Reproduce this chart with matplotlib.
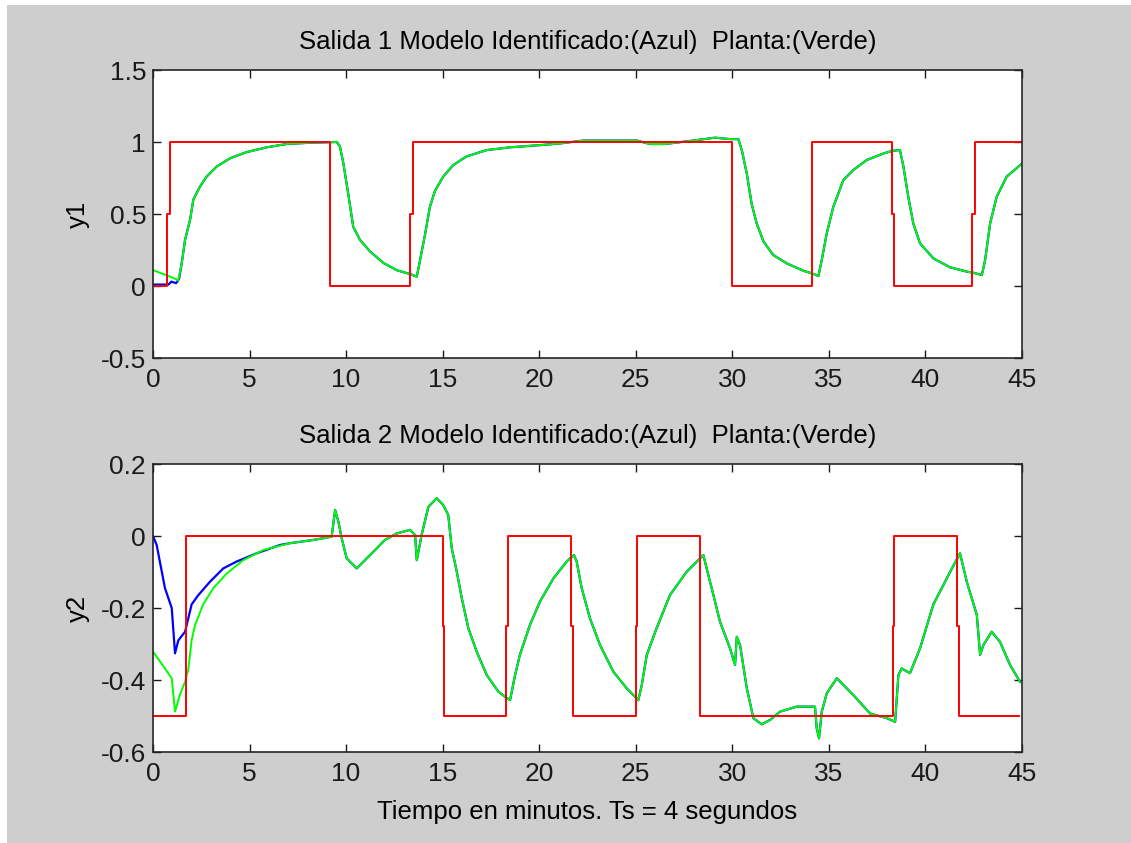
import matplotlib
matplotlib.use("Agg")
import matplotlib.pyplot as plt
import matplotlib.patches as mpatches
import numpy as np

plt.rcParams['font.family'] = ['Liberation Sans', 'DejaVu Sans']

# ── data ─────────────────────────────────────────────────────────────────────

# Salida 1: reference (red)
r1_t = [0, 0.73, 0.73, 0.87, 0.87, 9.17, 9.17, 13.31, 13.31, 13.44, 13.44,
        30.0, 30.0, 34.15, 34.15, 38.29, 38.29, 38.37, 38.37, 42.43, 42.43,
        42.57, 42.57, 45.0]
r1_y = [0, 0, 0.5, 0.5, 1, 1, 0, 0, 0.5, 0.5, 1,
        1, 0, 0, 1, 1, 0.5, 0.5, 0, 0, 0.5,
        0.5, 1, 1]

# Salida 1: plant (green)
g1_t = [0, 0.8, 1.31, 1.49, 1.66, 1.92, 2.09, 2.43, 2.78, 3.30, 3.99, 4.85,
        5.89, 6.92, 8.13, 9.51, 9.68, 9.86, 10.11, 10.37, 10.72, 11.24, 11.93,
        12.62, 13.31, 13.66, 13.83, 14.09, 14.34, 14.60, 15.03, 15.55, 16.24,
        17.28, 18.49, 20.21, 21.08, 22.28, 24.18, 25.05, 25.74, 26.51, 27.98,
        29.1, 29.88, 30.31, 30.49, 30.75, 31.0, 31.26, 31.61, 32.12, 32.82,
        33.68, 34.11, 34.46, 34.63, 34.89, 35.23, 35.75, 36.27, 36.96, 37.82,
        38.34, 38.68, 38.86, 39.11, 39.37, 39.72, 40.41, 41.27, 42.14, 42.48,
        42.92, 43.09, 43.35, 43.69, 44.21, 45.0]
g1_y = [0.11, 0.07, 0.04, 0.16, 0.32, 0.46, 0.60, 0.69, 0.76, 0.83, 0.887, 0.93,
        0.963, 0.986, 0.995, 1.0, 0.97, 0.85, 0.64, 0.41, 0.32, 0.24, 0.16,
        0.11, 0.083, 0.065, 0.18, 0.36, 0.55, 0.66, 0.76, 0.84, 0.90,
        0.944, 0.963, 0.98, 0.99, 1.01, 1.01, 1.01, 0.986, 0.986, 1.01,
        1.03, 1.02, 1.02, 0.944, 0.78, 0.57, 0.435, 0.31, 0.215, 0.157,
        0.106, 0.088, 0.07, 0.18, 0.366, 0.55, 0.736, 0.806, 0.875, 0.92,
        0.94, 0.944, 0.83, 0.62, 0.435, 0.296, 0.192, 0.13, 0.10, 0.092,
        0.076, 0.18, 0.435, 0.62, 0.76, 0.85]

# Salida 1: identified model (blue), start differs then follows the plant
b1_head_t = [0, 0.8, 0.95, 1.2, 1.35, 1.5]
b1_head_y = [0.01, 0.01, 0.03, 0.02, 0.05, 0.17]

# Salida 2: reference (red)
r2_t = [0, 1.71, 1.71, 15.0, 15.0, 15.07, 15.07, 18.28, 18.28, 18.4, 18.4,
        21.63, 21.63, 21.74, 21.74, 25.01, 25.01, 25.08, 25.08, 28.33, 28.33,
        38.3, 38.3, 38.39, 38.39, 41.62, 41.62, 41.72, 41.72, 44.85]
r2_y = [-0.5, -0.5, 0, 0, -0.25, -0.25, -0.5, -0.5, -0.25, -0.25, 0,
        0, -0.25, -0.25, -0.5, -0.5, -0.25, -0.25, 0, 0, -0.5,
        -0.5, -0.25, -0.25, 0, 0, -0.25, -0.25, -0.5, -0.5]

# Salida 2: plant (green)
g2_t = [0, 0.97, 1.14, 1.40, 1.66, 1.83, 2.0, 2.18, 2.6, 3.12, 3.82, 4.68,
        5.71, 7.09, 8.30, 9.25, 9.43, 9.6, 9.77, 10.03, 10.55, 11.24, 12.01,
        12.62, 13.31, 13.57, 13.66, 13.91, 14.26, 14.69, 15.03, 15.29, 15.47,
        15.73, 15.99, 16.33, 16.76, 17.28, 17.88, 18.32, 18.49, 18.75, 19.0,
        19.52, 20.04, 20.73, 21.42, 21.8, 21.94, 22.2, 22.63, 23.15, 23.84,
        24.53, 25.13, 25.31, 25.57, 26.08, 26.77, 27.64, 28.5, 28.67, 29.02,
        29.36, 29.88, 30.14, 30.23, 30.4, 30.75, 31.09, 31.52, 31.95, 32.47,
        33.33, 34.28, 34.37, 34.49, 34.63, 34.89, 35.41, 36.27, 37.13, 38.0,
        38.43, 38.6, 38.77, 39.2, 39.72, 40.41, 41.1, 41.79, 42.14, 42.66,
        42.83, 43.0, 43.43, 43.86, 44.38, 44.9]
g2_y = [-0.321, -0.395, -0.488, -0.44, -0.405, -0.37, -0.29, -0.247, -0.19,
        -0.145, -0.104, -0.067, -0.039, -0.02, -0.011, -0.002, 0.072, 0.04,
        -0.006, -0.062, -0.09, -0.053, -0.011, 0.007, 0.017, 0.003, -0.067,
        0.003, 0.081, 0.105, 0.086, 0.058, -0.034, -0.099, -0.173, -0.256,
        -0.321, -0.386, -0.432, -0.45, -0.456, -0.386, -0.33, -0.247, -0.182,
        -0.118, -0.071, -0.053, -0.071, -0.145, -0.229, -0.303, -0.377, -0.423,
        -0.456, -0.414, -0.33, -0.256, -0.164, -0.099, -0.053, -0.09, -0.164,
        -0.238, -0.312, -0.358, -0.28, -0.303, -0.423, -0.506, -0.523, -0.511,
        -0.488, -0.474, -0.474, -0.534, -0.562, -0.488, -0.437, -0.395, -0.442,
        -0.493, -0.506, -0.516, -0.386, -0.368, -0.381, -0.312, -0.19, -0.118,
        -0.048, -0.127, -0.219, -0.33, -0.303, -0.266, -0.294, -0.358, -0.405]

# Salida 2: identified model (blue), start differs then follows the plant
b2_head_t = [0, 0.19, 0.62, 0.97, 1.14, 1.31, 1.66, 2.0, 2.35, 2.95, 3.64,
             4.33, 5.37, 6.58]
b2_head_y = [0, -0.025, -0.145, -0.2, -0.326, -0.29, -0.266, -0.19, -0.164,
             -0.127, -0.09, -0.071, -0.048, -0.025]

titles = ["Salida 1 Modelo Identificado:(Azul)  Planta:(Verde)",
          "Salida 2 Modelo Identificado:(Azul)  Planta:(Verde)"]
ylabels = ["y1", "y2"]
xticks = np.arange(0, 50, 5)
yticks1 = [-0.5, 0, 0.5, 1, 1.5]
yticks2 = [-0.6, -0.4, -0.2, 0, 0.2]

# blue = own start, then the plant curve
i1 = np.searchsorted(g1_t, b1_head_t[-1], side="right")
b1_t = b1_head_t + g1_t[i1:]
b1_y = b1_head_y + g1_y[i1:]
i2 = np.searchsorted(g2_t, b2_head_t[-1], side="right")
b2_t = b2_head_t + g2_t[i2:]
b2_y = b2_head_y + g2_y[i2:]

# ── figure ───────────────────────────────────────────────────────────────────

W, H = 1131, 843
fig = plt.figure(figsize=(W / 100, H / 100), dpi=100)
fig.patch.set_facecolor("white")
fig.patches.append(mpatches.Rectangle((7 / W, 0), 1 - 7 / W, 1 - 5 / H,
                                      transform=fig.transFigure,
                                      facecolor="#cecece", edgecolor="none",
                                      zorder=-10))

left, width = 153 / W, (1022 - 153) / W
ax1 = fig.add_axes([left, 1 - 358 / H, width, 288 / H])
ax2 = fig.add_axes([left, 1 - 752 / H, width, 288 / H])

series = [(ax1, b1_t, b1_y, g1_t, g1_y, r1_t, r1_y, (-0.5, 1.5), yticks1),
          (ax2, b2_t, b2_y, g2_t, g2_y, r2_t, r2_y, (-0.6, 0.2), yticks2)]

for k, (ax, bt, by, gt, gy, rt, ry, ylim, yt) in enumerate(series):
    ax.plot(bt, by, color="#0000ff", lw=1.6)
    ax.plot(gt, gy, color="#00ff00", lw=1.4)
    ax.plot(rt, ry, color="#ff0000", lw=1.4)
    ax.set_xlim(0, 45)
    ax.set_ylim(*ylim)
    ax.set_xticks(xticks)
    ax.set_yticks(yt)
    ax.set_xticklabels([str(v) for v in xticks])
    ax.set_yticklabels([f"{v:g}" for v in yt])
    ax.tick_params(direction="in", length=6, width=1, top=True, right=True,
                   labelsize=19, colors="#1a1a1a")
    ax.tick_params(axis="x", pad=7)
    ax.tick_params(axis="y", pad=5)
    for s in ax.spines.values():
        s.set_linewidth(1.2)
        s.set_color("#262626")
    ax.set_title(titles[k], fontsize=18.5, pad=15)
    ax.set_ylabel(ylabels[k], fontsize=18.5, labelpad=8)

ax2.set_xlabel("Tiempo en minutos. Ts = 4 segundos", fontsize=18.5, labelpad=10)

fig.savefig("out.png", dpi=100, facecolor=fig.get_facecolor())
